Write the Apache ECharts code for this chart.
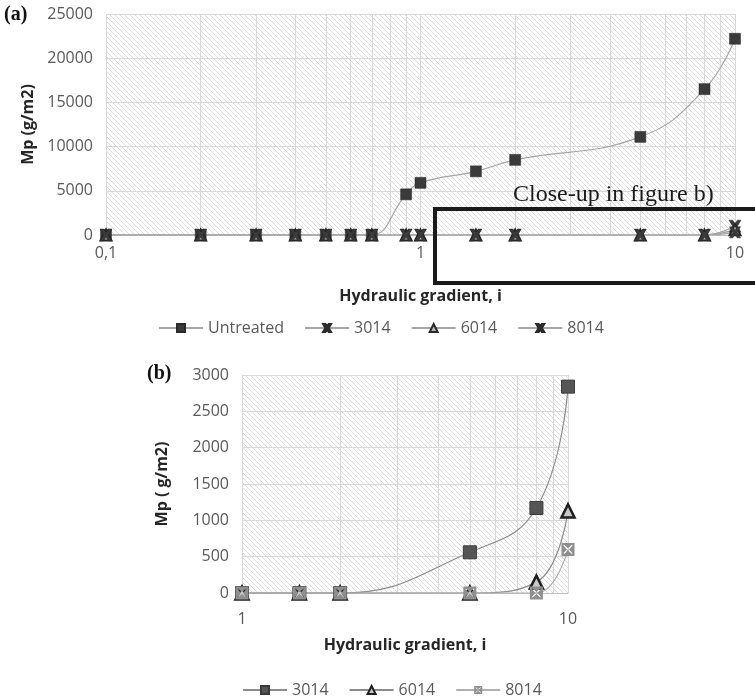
<!DOCTYPE html>
<html>
<head>
<meta charset="utf-8">
<script src="https://cdn.jsdelivr.net/npm/echarts@6/dist/echarts.min.js"></script>
<style>
  html, body { margin: 0; padding: 0; background: #fff; }
  #chart { width: 755px; height: 696px; }
</style>
</head>
<body>
<div id="chart"></div>
<script>
// ---- Panel (a): full range of hydraulic gradient ----
const gradientA = [0.1, 0.2, 0.3, 0.4, 0.5, 0.6, 0.7, 0.9, 1, 1.5, 2, 5, 8, 10];
const untreatedA = [0, 0, 0, 0, 0, 0, 0, 4600, 5900, 7200, 8500, 11100, 16500, 22200];
const s3014A = [0, 0, 0, 0, 0, 0, 0, 0, 0, 0, 0, 0, 0, 1000];
const s6014A = [0, 0, 0, 0, 0, 0, 0, 0, 0, 0, 0, 0, 0, 600];
const s8014A = [0, 0, 0, 0, 0, 0, 0, 0, 0, 0, 0, 0, 0, 300];

// ---- Panel (b): close-up of the treated samples ----
const gradientB = [1, 1.5, 2, 5, 8, 10];
const s3014B = [0, 0, 0, 560, 1170, 2840];
const s6014B = [0, 0, 0, 0, 150, 1130];
const s8014B = [0, 0, 0, 0, 0, 600];

const yTicksA = { min: 0, max: 25000, interval: 5000 };
const yTicksB = { min: 0, max: 3000, interval: 500 };
const minorGridA = [0.2, 0.3, 0.4, 0.5, 0.6, 0.7, 0.8, 0.9, 2, 3, 4, 5, 6, 7, 8, 9];
const minorGridB = [2, 3, 4, 5, 6, 7, 8, 9];

const FONT = 'Open Sans';
const LABEL_COLOR = '#595959';
const NAME_COLOR = '#262626';

// diagonal hatch used as the plot-area fill
function hatchTile() {
  const c = document.createElement('canvas');
  c.width = 5; c.height = 5;
  const g = c.getContext('2d');
  g.fillStyle = '#ffffff';
  g.fillRect(0, 0, 5, 5);
  g.strokeStyle = '#d9d9d9';
  g.lineWidth = 0.9;
  g.beginPath();
  g.moveTo(-1, -1); g.lineTo(6, 6);
  g.moveTo(-1, 4); g.lineTo(1, 6);
  g.moveTo(4, -1); g.lineTo(6, 1);
  g.stroke();
  return c;
}
const hatch = { image: hatchTile(), repeat: 'repeat' };

function pairs(xs, ys) { return xs.map((x, i) => [x, ys[i]]); }

const xSymbol = 'path://M0,0 L3,0 L5,3 L7,0 L10,0 L7,5 L10,10 L7,10 L5,7 L3,10 L0,10 L3,5 Z';
// square with an X cut out of it (inner contour wound the other way)
const xBoxSymbol = 'path://M0,0 L10,0 L10,10 L0,10 Z M2,1.5 L1.5,2 L4.2,5 L1.5,8 L2,8.5 L5,5.8 L8,8.5 L8.5,8 L5.8,5 L8.5,2 L8,1.5 L5,4.2 Z';

function minorLines(values) {
  return {
    silent: true,
    z: 1,
    symbol: ['none', 'none'],
    label: { show: false },
    lineStyle: { color: '#d9d9d9', type: 'solid', width: 1 },
    emphasis: { disabled: true },
    animation: false,
    data: values.map(v => ({ xAxis: v }))
  };
}

function lineSeries(name, xi, data, symbol, size, itemStyle, lineColor, extra) {
  return Object.assign({
    name: name,
    type: 'line',
    xAxisIndex: xi,
    yAxisIndex: xi,
    data: data,
    smooth: 0.45,
    symbol: symbol,
    symbolSize: size,
    itemStyle: itemStyle,
    lineStyle: { color: lineColor, width: 1.2 },
    animation: false,
    z: 3
  }, extra || {});
}

function logXAxis(gi, min, max, labelMargin, nameGap) {
  return {
    type: 'log',
    logBase: 10,
    gridIndex: gi,
    min: min,
    max: max,
    name: 'Hydraulic gradient, i',
    nameLocation: 'middle',
    nameGap: nameGap,
    nameTextStyle: { fontFamily: FONT, fontWeight: 'bold', fontSize: 16, color: NAME_COLOR },
    axisLine: { show: true, lineStyle: { color: '#bfbfbf', width: 1 } },
    axisTick: { show: false },
    minorTick: { show: false },
    axisLabel: {
      fontFamily: FONT, fontSize: 16, color: LABEL_COLOR, margin: labelMargin,
      formatter: v => String(v).replace('.', ',')
    },
    splitLine: { show: true, lineStyle: { color: '#d9d9d9', width: 1 } }
  };
}

function valueYAxis(gi, ticks, name, nameGap) {
  return {
    type: 'value',
    gridIndex: gi,
    min: ticks.min,
    max: ticks.max,
    interval: ticks.interval,
    name: name,
    nameLocation: 'middle',
    nameGap: nameGap,
    nameTextStyle: { fontFamily: FONT, fontWeight: 'bold', fontSize: 16, color: NAME_COLOR },
    axisLine: { show: false },
    axisTick: { show: false },
    axisLabel: { fontFamily: FONT, fontSize: 16, color: LABEL_COLOR, margin: 13, formatter: v => String(v) },
    splitLine: { show: true, lineStyle: { color: '#d9d9d9', width: 1 } }
  };
}

const dark = { color: '#3a3a3a', borderColor: '#2a2a2a', borderWidth: 0.5 };

const option = {
  backgroundColor: '#ffffff',
  animation: false,
  grid: [
    { left: 106, top: 14, width: 629, height: 221, show: true, backgroundColor: hatch, borderWidth: 0 },
    { left: 242, top: 375, width: 326, height: 218, show: true, backgroundColor: hatch, borderWidth: 0 }
  ],
  xAxis: [
    logXAxis(0, 0.1, 10, 10, 53),
    logXAxis(1, 1, 10, 18, 44)
  ],
  yAxis: [
    valueYAxis(0, yTicksA, 'Mp (g/m2)', 70),
    valueYAxis(1, yTicksB, 'Mp ( g/m2)', 72)
  ],
  legend: [
    {
      data: ['Untreated', '3014', '6014', '8014'],
      left: 153, top: 315,
      itemWidth: 44, itemHeight: 10, itemGap: 20,
      textStyle: { fontFamily: FONT, fontSize: 16, color: LABEL_COLOR },
      selectedMode: false
    },
    {
      data: ['b3014', 'b6014', 'b8014'],
      left: 237, top: 677,
      itemWidth: 44, itemHeight: 10, itemGap: 20,
      formatter: n => n.slice(1),
      textStyle: { fontFamily: FONT, fontSize: 16, color: LABEL_COLOR },
      selectedMode: false
    }
  ],
  graphic: [
    { type: 'text', left: 4, top: 5, style: { text: '(a)', font: 'bold 20px "Liberation Serif"', fill: '#111' } },
    { type: 'text', left: 147, top: 364, style: { text: '(b)', font: 'bold 20px "Liberation Serif"', fill: '#111' } },
    { type: 'text', left: 513, top: 183, z: 10, style: { text: 'Close-up in figure b)', font: '24px "Liberation Serif"', fill: '#1a1a1a' } },
    { type: 'rect', z: 10, shape: { x: 435, y: 209, width: 340, height: 74 }, style: { fill: 'none', stroke: '#1a1a1a', lineWidth: 4 } }
  ],
  series: [
    // panel (a)
    lineSeries('Untreated', 0, pairs(gradientA, untreatedA), 'rect', 11, dark, '#a6a6a6',
      { markLine: minorLines(minorGridA) }),
    lineSeries('3014', 0, pairs(gradientA, s3014A), xSymbol, 12, dark, '#a6a6a6'),
    lineSeries('6014', 0, pairs(gradientA, s6014A), 'triangle', 11,
      { color: '#bdbdbd', borderColor: '#262626', borderWidth: 2 }, '#a6a6a6'),
    lineSeries('8014', 0, pairs(gradientA, s8014A), xSymbol, 11, dark, '#a6a6a6'),
    // panel (b)
    lineSeries('b3014', 1, pairs(gradientB, s3014B), 'rect', 13,
      { color: '#555555', borderColor: '#3a3a3a', borderWidth: 1 }, '#8c8c8c',
      { markLine: minorLines(minorGridB) }),
    lineSeries('b6014', 1, pairs(gradientB, s6014B), 'triangle', 13,
      { color: '#c8c8c8', borderColor: '#1f1f1f', borderWidth: 2.5 }, '#8c8c8c'),
    lineSeries('b8014', 1, pairs(gradientB, s8014B), xBoxSymbol, 13,
      { color: '#8f8f8f', borderColor: '#8f8f8f', borderWidth: 0 }, '#b0b0b0')
  ]
};

const chart = echarts.init(document.getElementById('chart'), null, { renderer: 'canvas' });
chart.setOption(option);
</script>
</body>
</html>
